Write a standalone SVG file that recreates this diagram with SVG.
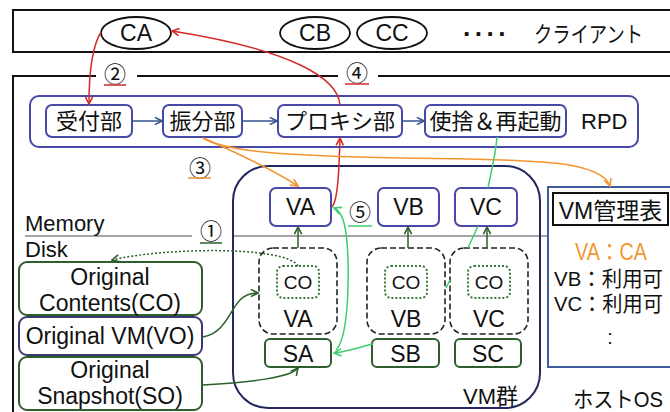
<svg xmlns="http://www.w3.org/2000/svg" width="670" height="412" viewBox="0 0 670 412">
  <defs>
    <style>
      text { font-family: "Liberation Sans", "Noto Sans CJK JP", sans-serif; fill: #111; }
      .f22 { font-size: 22px; }
      .f23 { font-size: 23px; }
      .mid { text-anchor: middle; }
      .frame { fill: none; stroke: #111; stroke-width: 2; }
      .bbox { fill: #fff; stroke: #4848a8; stroke-width: 2; }
      .gbox { fill: #fff; stroke: #2e5e2e; stroke-width: 2; }
      .dash { fill: #fff; stroke: #222; stroke-width: 1.6; stroke-dasharray: 6 3; }
      .dot { fill: #fff; stroke: #3a7a3a; stroke-width: 2; stroke-dasharray: 2 2; }
      .sep { fill: none; stroke: #888; stroke-width: 1.5; }
      .c { fill: none; stroke-width: 1.5; }
      .red { stroke: #d42a2a; }
      .orange { stroke: #f39530; }
      .lime { stroke: #3dcc6e; }
      .dkg { stroke: #2b5f2b; }
      .blu { stroke: #35558f; }
    </style>
    <marker id="ah-red" viewBox="0 0 10 10" refX="9" refY="5" markerWidth="9" markerHeight="9" markerUnits="userSpaceOnUse" orient="auto">
      <path d="M1,1 L9,5 L1,9" fill="none" stroke="#d42a2a" stroke-width="1.8"/>
    </marker>
    <marker id="ah-orange" viewBox="0 0 10 10" refX="9" refY="5" markerWidth="9" markerHeight="9" markerUnits="userSpaceOnUse" orient="auto">
      <path d="M1,1 L9,5 L1,9" fill="none" stroke="#f39530" stroke-width="1.8"/>
    </marker>
    <marker id="ah-lime" viewBox="0 0 10 10" refX="9" refY="5" markerWidth="9" markerHeight="9" markerUnits="userSpaceOnUse" orient="auto">
      <path d="M1,1 L9,5 L1,9" fill="none" stroke="#3dcc6e" stroke-width="1.8"/>
    </marker>
    <marker id="ah-dkg" viewBox="0 0 10 10" refX="9" refY="5" markerWidth="9" markerHeight="9" markerUnits="userSpaceOnUse" orient="auto">
      <path d="M1,1 L9,5 L1,9" fill="none" stroke="#2b5f2b" stroke-width="1.8"/>
    </marker>
    <marker id="ah-blu" viewBox="0 0 10 10" refX="9" refY="5" markerWidth="9" markerHeight="9" markerUnits="userSpaceOnUse" orient="auto">
      <path d="M1,1 L9,5 L1,9" fill="none" stroke="#35558f" stroke-width="1.8"/>
    </marker>
  </defs>

  <rect width="670" height="412" fill="#fff"/>

  <!-- client area -->
  <g id="clients">
    <rect class="frame" x="13" y="10" width="670" height="42"/>
    <text x="463" y="43" font-size="26" font-weight="bold" textLength="44" lengthAdjust="spacing">····</text>
    <text x="534" y="42" font-size="22" textLength="109" lengthAdjust="spacingAndGlyphs">クライアント</text>
  </g>
  <g id="client-CA">
    <ellipse cx="136" cy="33" rx="35" ry="16" fill="#fff" stroke="#111" stroke-width="1.8"/>
    <text class="f23 mid" x="136" y="41">CA</text>
  </g>
  <g id="client-CB">
    <ellipse cx="315" cy="33" rx="35" ry="16" fill="#fff" stroke="#111" stroke-width="1.8"/>
    <text class="f23 mid" x="315" y="41">CB</text>
  </g>
  <g id="client-CC">
    <ellipse cx="392" cy="33" rx="35" ry="16" fill="#fff" stroke="#111" stroke-width="1.8"/>
    <text class="f23 mid" x="392" y="41">CC</text>
  </g>

  <!-- host OS frame -->
  <g id="host-os">
    <path class="frame" d="M13,412 L13,76 L96,76 M137,76 L338,76 M378,76 L670,76"/>
    <text class="f22" x="573" y="407" textLength="90" lengthAdjust="spacingAndGlyphs">ホストOS</text>
  </g>

  <!-- step labels -->
  <g id="steps">
    <text class="f22 mid" x="115" y="82">②</text>
    <line x1="104" y1="85" x2="126" y2="85" stroke="#d42a2a" stroke-width="1.5"/>
    <text class="f22 mid" x="357" y="81">④</text>
    <line x1="345" y1="84" x2="369" y2="84" stroke="#d42a2a" stroke-width="1.5"/>
    <text class="f22 mid" x="200" y="176">③</text>
    <line x1="188" y1="178" x2="211" y2="178" stroke="#f39530" stroke-width="1.5"/>
    <text class="f22 mid" x="211" y="239">①</text>
    <line x1="200" y1="243" x2="222" y2="243" stroke="#2b5f2b" stroke-width="1.5"/>
    <text class="f22 mid" x="360" y="220">⑤</text>
    <line x1="348" y1="226" x2="372" y2="226" stroke="#3dcc6e" stroke-width="1.5"/>
  </g>

  <!-- memory / disk boundary -->
  <g id="memory-disk">
    <path class="sep" d="M25,236 L192,236 M232,236 L548,236"/>
    <text class="f22" x="25" y="231">Memory</text>
    <text class="f22" x="25" y="257">Disk</text>
  </g>

  <!-- RPD -->
  <g id="rpd">
    <rect x="30" y="96" width="608" height="51" rx="9" fill="none" stroke="#4848a8" stroke-width="2"/>
    <text class="f22" x="581" y="129">RPD</text>
  </g>
  <g id="uketsuke">
    <rect class="bbox" x="46" y="105" width="86" height="32" rx="6"/>
    <text class="f22 mid" x="89" y="129">受付部</text>
  </g>
  <g id="furiwake">
    <rect class="bbox" x="163" y="105" width="79" height="32" rx="6"/>
    <text class="f22 mid" x="202.5" y="129">振分部</text>
  </g>
  <g id="proxy">
    <rect class="bbox" x="278" y="105" width="124" height="32" rx="6"/>
    <text class="f22 mid" x="340" y="129">プロキシ部</text>
  </g>
  <g id="restart">
    <rect class="bbox" x="425" y="105" width="141" height="32" rx="6"/>
    <text class="f22 mid" x="495.5" y="129">使捨＆再起動</text>
  </g>

  <!-- VM group -->
  <g id="vm-group">
    <rect x="233" y="166" width="307" height="242" rx="35" fill="none" stroke="#24285e" stroke-width="2"/>
    <text class="f22" x="463" y="404">VM群</text>
  </g>
  <g id="mem-VA">
    <rect class="bbox" x="270" y="188" width="61" height="38" rx="6"/>
    <text class="f23 mid" x="300.5" y="215">VA</text>
  </g>
  <g id="mem-VB">
    <rect class="bbox" x="378" y="188" width="61" height="38" rx="6"/>
    <text class="f23 mid" x="408.5" y="215">VB</text>
  </g>
  <g id="mem-VC">
    <rect class="bbox" x="455" y="188" width="62" height="38" rx="6"/>
    <text class="f23 mid" x="486" y="215">VC</text>
  </g>

  <g id="disk-VA">
    <rect class="dash" x="259" y="248" width="78" height="86" rx="14"/>
    <rect class="dot" x="277" y="266" width="42" height="32" rx="6"/>
    <text class="mid" x="298" y="289" font-size="19">CO</text>
    <text class="f23 mid" x="298" y="327">VA</text>
  </g>
  <g id="disk-VB">
    <rect class="dash" x="367" y="248" width="78" height="86" rx="14"/>
    <rect class="dot" x="385" y="266" width="42" height="32" rx="6"/>
    <text class="mid" x="406" y="289" font-size="19">CO</text>
    <text class="f23 mid" x="406" y="327">VB</text>
  </g>
  <g id="disk-VC">
    <rect class="dash" x="450" y="248" width="78" height="86" rx="14"/>
    <rect class="dot" x="468" y="266" width="42" height="32" rx="6"/>
    <text class="mid" x="489" y="289" font-size="19">CO</text>
    <text class="f23 mid" x="489" y="327">VC</text>
  </g>

  <g id="snap-SA">
    <rect class="gbox" x="265" y="339" width="66" height="28" rx="5"/>
    <text class="f23 mid" x="298" y="362">SA</text>
  </g>
  <g id="snap-SB">
    <rect class="gbox" x="372" y="339" width="67" height="28" rx="5"/>
    <text class="f23 mid" x="405.5" y="362">SB</text>
  </g>
  <g id="snap-SC">
    <rect class="gbox" x="455" y="339" width="66" height="28" rx="5"/>
    <text class="f23 mid" x="488" y="362">SC</text>
  </g>

  <!-- originals on disk -->
  <g id="orig-contents">
    <rect class="gbox" x="19" y="262" width="183" height="53" rx="8"/>
    <text class="f23 mid" x="110" y="285">Original</text>
    <text class="f23 mid" x="110" y="311">Contents(CO)</text>
  </g>
  <g id="orig-vm">
    <rect x="19" y="317" width="183" height="38" rx="8" fill="#fff" stroke="#3a3a70" stroke-width="2"/>
    <text class="f23 mid" x="110" y="344">Original VM(VO)</text>
  </g>
  <g id="orig-snapshot">
    <rect class="gbox" x="19" y="357" width="183" height="53" rx="8"/>
    <text class="f23 mid" x="110" y="378">Original</text>
    <text class="f23 mid" x="110" y="404">Snapshot(SO)</text>
  </g>

  <!-- VM table -->
  <g id="vm-table">
    <rect x="548" y="187" width="140" height="180" fill="#fff" stroke="#3f5d9c" stroke-width="2"/>
    <rect x="553" y="193" width="115" height="32" fill="#fff" stroke="#111" stroke-width="2"/>
    <text class="f23 mid" x="610.5" y="219">VM管理表</text>
    <text class="mid" x="611" y="260" font-size="23" style="fill:#f39530" textLength="72" lengthAdjust="spacingAndGlyphs">VA：CA</text>
    <text x="554" y="286" font-size="21" textLength="109" lengthAdjust="spacingAndGlyphs">VB：利用可</text>
    <text x="554" y="311" font-size="21" textLength="109" lengthAdjust="spacingAndGlyphs">VC：利用可</text>
    <text class="mid" x="610" y="344" font-size="20">:</text>
  </g>

  <!-- connectors -->
  <g id="connectors">
    <path class="c blu" d="M132,121 L162,121" marker-end="url(#ah-blu)"/>
    <path class="c blu" d="M242,121 L277,121" marker-end="url(#ah-blu)"/>
    <path class="c blu" d="M402,121 L424,121" marker-end="url(#ah-blu)"/>

    <path class="c red" d="M101,32 C93,45 89,70 89,104" marker-end="url(#ah-red)"/>
    <path class="c red" d="M340,105 C338,78 292,50 172,31" marker-end="url(#ah-red)"/>
    <path class="c red" d="M332,207 C338,200 339,170 340,138" marker-end="url(#ah-red)"/>

    <path class="c orange" d="M203,138 C235,152 270,168 298,186" marker-end="url(#ah-orange)"/>
    <path class="c orange" d="M203,138 C225,152 290,156 400,158 C520,160 600,158 610,186" marker-end="url(#ah-orange)"/>

    <path class="c lime" d="M497,137 C495,160 490,176 488,188 M478,226 L468,248 M450,280 L446,288 M373,344 C360,347 346,352 334,353" marker-end="url(#ah-lime)"/>
    <path class="c lime" d="M336,350 C346,340 349,300 348,260 C347,230 344,212 334,208" marker-end="url(#ah-lime)"/>

    <path class="c dkg" d="M298,248 L298,227" marker-end="url(#ah-dkg)"/>
    <path class="c dkg" d="M408,248 L408,227" marker-end="url(#ah-dkg)"/>
    <path class="c dkg" d="M487,248 L487,227" marker-end="url(#ah-dkg)"/>
    <path class="c dkg" d="M203,337 C225,333 230,310 240,300 C246,294 252,293 258,293" marker-end="url(#ah-dkg)"/>
    <path class="c dkg" d="M203,385 C250,382 290,378 298,368" marker-end="url(#ah-dkg)"/>
    <path class="c dkg" d="M298,266 C285,245 160,248 112,260" stroke-dasharray="2 2" marker-end="url(#ah-dkg)"/>
  </g>
</svg>
